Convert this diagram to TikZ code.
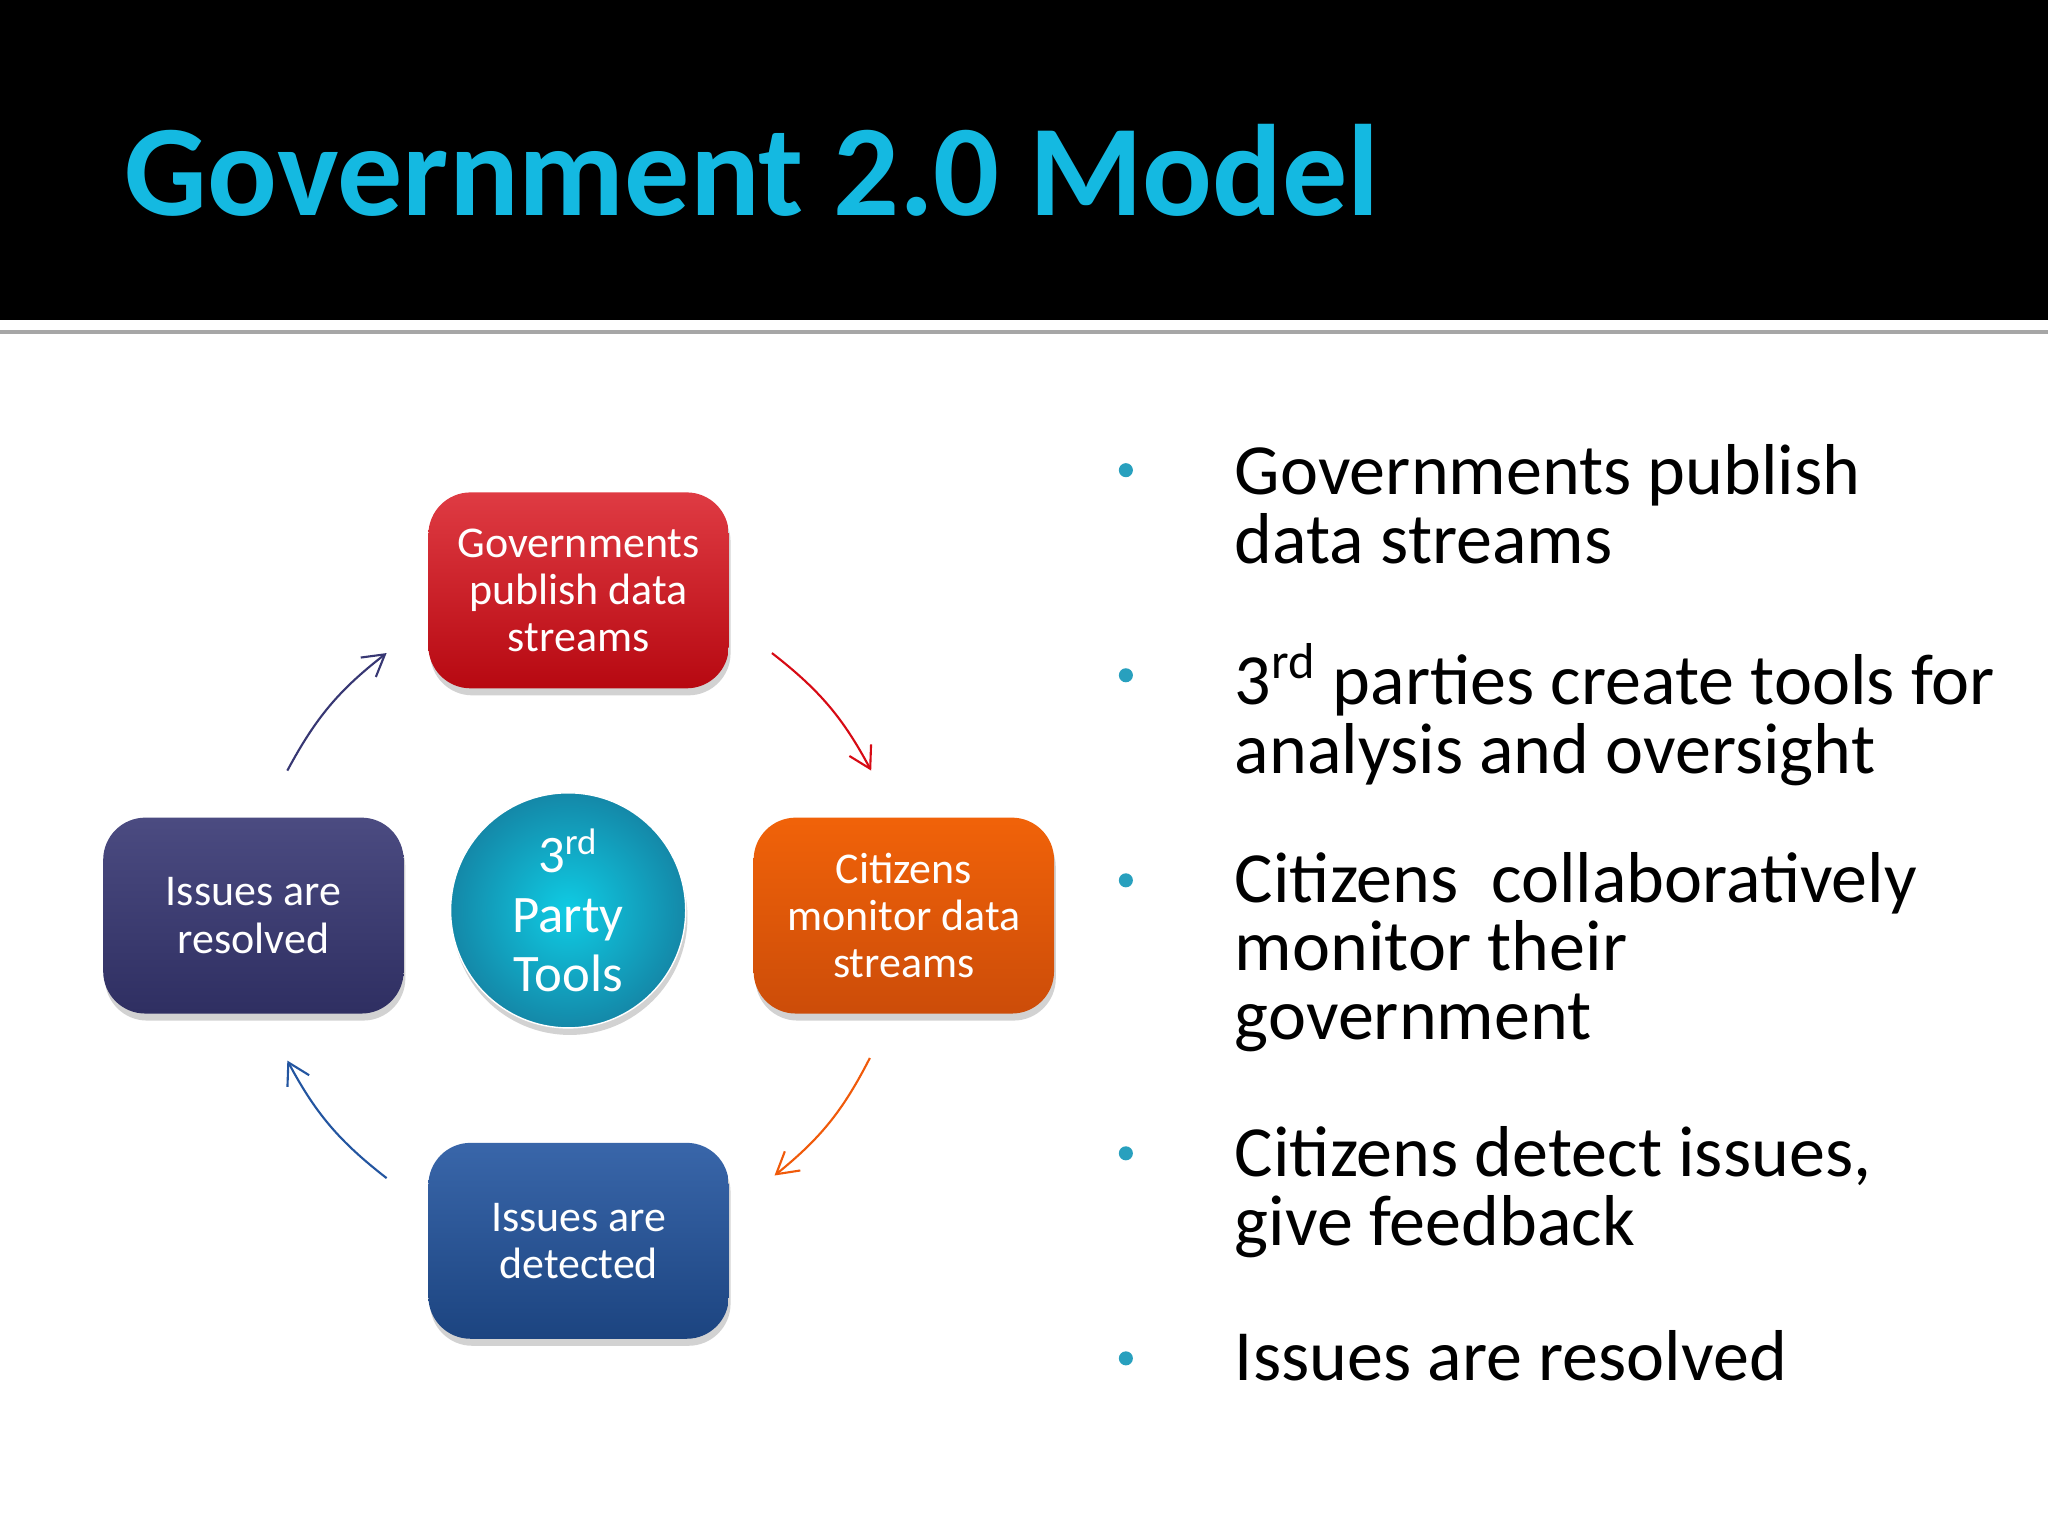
\documentclass[tikz,border=0pt]{standalone}
\usepackage{fontspec}
\setmainfont{Carlito}
\usetikzlibrary{shadows,arrows.meta}
\definecolor{tcyan}{RGB}{20,185,225}
\definecolor{bred}{RGB}{215,10,20}
\definecolor{bora}{RGB}{240,90,10}
\definecolor{bblue}{RGB}{35,85,160}
\definecolor{bpur}{RGB}{55,55,115}
\definecolor{ccyan}{RGB}{25,170,210}
\definecolor{dotc}{RGB}{40,160,190}
\tikzset{
 box/.style={rounded corners=12pt,minimum width=230*0.01306cm,minimum height=150*0.01306cm,align=center,text=white,font=\fontsize{12.5}{13.4}\selectfont,drop shadow={shadow xshift=0.5pt,shadow yshift=-2pt,opacity=0.35}},
 cyc/.style={-{Straight Barb[length=6pt,width=7pt]},line width=0.6pt},
 btxt/.style={anchor=north west,align=left,font=\fontsize{20.5}{19.5}\selectfont,inner sep=0pt},
 dot/.style={circle,fill=dotc,inner sep=0pt,minimum size=4pt}
}
\begin{document}
\begin{tikzpicture}[x=0.01306cm,y=-0.01306cm]
\useasboundingbox (0,0) rectangle (1568,1176);
\fill[white] (0,0) rectangle (1568,1176);
\fill[black] (0,0) rectangle (1568,245);
\draw[gray!70,line width=1.2pt] (0,254) -- (1568,254);
\node[anchor=base west,inner sep=0pt,text=tcyan,font=\fontsize{37}{40}\selectfont\bfseries] (title) at (95,165) {Government 2.0 Model};
\node[box,top color=bred!80!white,bottom color=bred!85!black] (g) at (443,452) {Governments\\publish data\\streams};
\node[box,top color=bora!95!yellow,bottom color=bora!85!black] (c) at (692,701) {Citizens\\monitor data\\streams};
\node[box,top color=bblue!90!white,bottom color=bblue!80!black] (d) at (443,950) {Issues are\\detected};
\node[box,top color=bpur!90!white,bottom color=bpur!85!black] (r) at (194,701) {Issues are\\resolved};
\node[circle,minimum size=180*0.01306cm,inner color=ccyan!60!cyan,outer color=ccyan!80!black,draw=white,text=white,align=center,font=\fontsize{15}{17}\selectfont,drop shadow={shadow xshift=0.5pt,shadow yshift=-2pt,opacity=0.35}] (t) at (435,697) {3\textsuperscript{rd}\\Party\\Tools};
\coordinate (a1) at (591,500); \coordinate (a2) at (667,590);
\coordinate (b1) at (666,810); \coordinate (b2) at (593,900);
\coordinate (c1) at (296,902); \coordinate (c2) at (220,812);
\coordinate (d1) at (220,590); \coordinate (d2) at (296,500);
\draw[cyc,bred] (a1) to[bend left=12] (a2);
\draw[cyc,bora] (b1) to[bend left=12] (b2);
\draw[cyc,bblue] (c1) to[bend left=12] (c2);
\draw[cyc,bpur] (d1) to[bend left=12] (d2);
\foreach \y in {360,517,674,883,1040} \node[dot] at (862,\y) {};
\node[btxt] (t1) at (945,340) {Governments publish\\data streams};
\node[btxt] (t2) at (945,492) {3\textsuperscript{rd} parties create tools for\\analysis and oversight};
\node[btxt] (t3) at (945,652) {Citizens\ \ collaboratively\\monitor their\\government};
\node[btxt] (t4) at (945,862) {Citizens detect issues,\\give feedback};
\node[btxt] (t5) at (945,1018) {Issues are resolved};
\end{tikzpicture}
\end{document}
